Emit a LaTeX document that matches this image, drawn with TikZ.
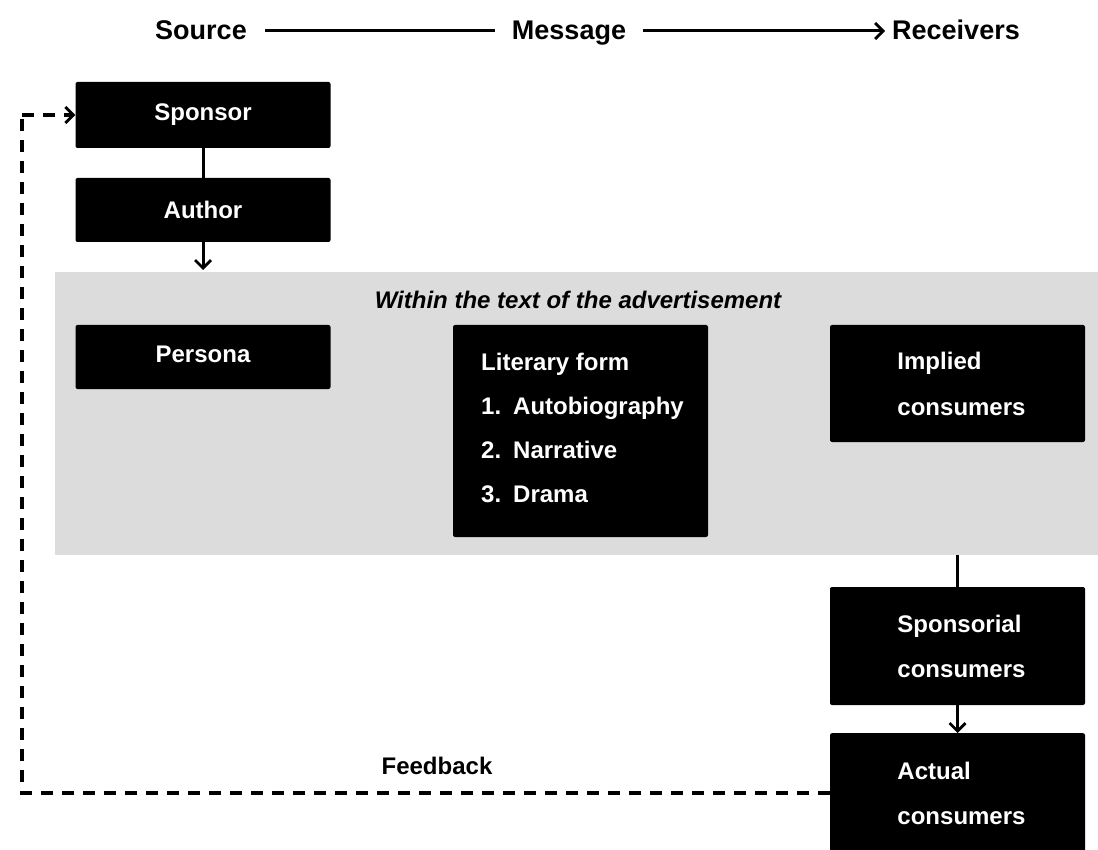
\documentclass[tikz,border=0pt]{standalone}
\usepackage{fontspec}
\setmainfont{Liberation Sans}
\usetikzlibrary{arrows.meta}
\definecolor{panelgray}{RGB}{220,220,220}
\begin{document}
\begin{tikzpicture}[x=1pt,y=-1pt,
  every node/.style={font=\fontsize{24}{28}\selectfont\bfseries},
  blackbox/.style={fill=black,text=white,rounded corners=2pt,inner sep=0pt,
    minimum width=255pt},
  link/.style={line width=3pt},
  tip/.style={-{Straight Barb[length=8pt,width=16pt,line width=2.8pt]}},
  fb/.style={line width=3.2pt,dash pattern=on 12pt off 9pt},
  head/.style={font=\fontsize{27}{30}\selectfont\bfseries,anchor=base}]
\useasboundingbox (0,0) rectangle (1098,850);
\fill[white] (0,0) rectangle (1098,850);

% header flow
\node[head] (src) at (201,40) {Source};
\node[head] (msg) at (569,40) {Message};
\node[head] (rcv) at (956,40) {Receivers};
\draw[link] (265,31) -- (495,31);
\draw[link,tip] (643,31) -- (885,31);

% panel for the text of the advertisement
\node[fill=panelgray,minimum width=1043pt,minimum height=283pt,inner sep=0pt,
  anchor=north west] (panel) at (55,272) {};
\node[font=\fontsize{24}{28}\selectfont\bfseries\itshape] (within) at (578,300)
  {Within the text of the advertisement};

% source side
\node[blackbox,minimum height=66pt] (sponsor) at (203,115) {Sponsor};
\node[blackbox,minimum height=64pt] (author) at (203,210) {Author};
\draw[link] (sponsor) -- (author);
\draw[link,tip] (author.south) -- (203,270);

% boxes inside the panel
\node[blackbox,minimum height=64pt] (persona) at (203,357) {\raisebox{5pt}{Persona}};
\node[blackbox,minimum height=212pt,align=left,
  font=\fontsize{24}{44}\selectfont\bfseries] (form) at (580.5,431)
  {\hspace*{4pt}Literary form\\
   \hspace*{4pt}\makebox[32pt][l]{1.}Autobiography\\
   \hspace*{4pt}\makebox[32pt][l]{2.}Narrative\\
   \hspace*{4pt}\makebox[32pt][l]{3.}Drama\hspace{74pt}\\[-37pt]\mbox{}};
\node[blackbox,minimum height=117pt,align=left,
  font=\fontsize{24}{46}\selectfont\bfseries] (implied) at (957.5,383.5)
  {\hspace*{8pt}Implied\hspace{33pt}\\\hspace*{8pt}consumers};

% receiver side
\node[blackbox,minimum height=118pt,align=left,
  font=\fontsize{24}{45}\selectfont\bfseries] (sponsorial) at (957.5,646)
  {\hspace*{8pt}Sponsorial\\\hspace*{8pt}consumers};
\node[blackbox,minimum height=120pt,anchor=north,align=left,
  font=\fontsize{24}{45}\selectfont\bfseries] (actual) at (957.5,733)
  {\hspace*{8pt}Actual\hspace{52pt}\\\hspace*{8pt}consumers};
\draw[link] (panel.south -| sponsorial.north) -- (sponsorial.north);
\draw[link,tip] (sponsorial.south) -- (actual.north);

% feedback loop
\coordinate (fbx) at (22,0);
\coordinate (fbstart) at (actual.west |- 0,793);
\draw[fb] (fbstart) -| (fbx |- sponsor.west);
\draw[fb,tip] (fbx |- sponsor.west) -- (sponsor.west);
\node (feedback) at (437,766) {Feedback};
\end{tikzpicture}
\end{document}
